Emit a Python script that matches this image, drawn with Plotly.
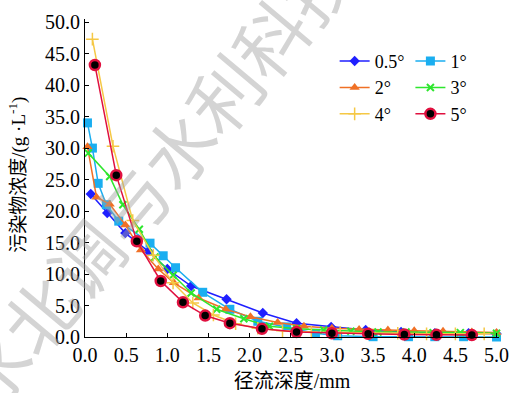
import plotly.graph_objects as go

# ---- data ----
names = ["0.5°", "1°", "2°", "3°", "4°", "5°"]

x_05 = [0.07, 0.27, 0.49, 0.77, 1.0, 1.29, 1.72, 2.16, 2.57, 2.99, 3.41, 3.84, 4.25, 4.66, 5.0]
y_05 = [22.7, 19.7, 16.5, 13.6, 10.8, 8.1, 6.0, 3.8, 2.2, 1.6, 1.1, 0.8, 0.6, 0.6, 0.5]

x_1 = [0.03, 0.09, 0.16, 0.26, 0.41, 0.79, 0.95, 1.1, 1.43, 1.76, 2.1, 2.45, 2.8, 3.07, 3.5, 3.93, 4.25, 4.6, 5.0]
y_1 = [34.0, 30.0, 24.4, 21.0, 18.4, 14.9, 12.9, 11.0, 7.1, 4.4, 2.5, 1.6, 0.6, 0.2, 0.05, 0.05, 0.05, 0.05, 0.0]

x_2 = [0.03, 0.14, 0.3, 0.49, 0.68, 0.89, 1.08, 1.38, 1.71, 2.01, 2.34, 2.66, 3.0, 3.33, 3.68, 4.0, 4.35, 4.7, 5.0]
y_2 = [30.2, 22.2, 21.1, 17.8, 13.8, 10.8, 8.6, 6.2, 4.4, 3.2, 2.3, 1.7, 1.4, 1.2, 1.1, 1.0, 0.9, 0.8, 0.7]

x_3 = [0.04, 0.3, 0.46, 0.66, 0.85, 1.07, 1.29, 1.6, 1.93, 2.24, 2.57, 2.9, 3.23, 3.56, 3.9, 4.23, 4.56, 5.0]
y_3 = [29.2, 25.5, 21.0, 17.1, 12.7, 9.8, 7.0, 4.4, 2.9, 1.7, 1.3, 1.1, 0.9, 0.8, 0.8, 0.7, 0.7, 0.6]

x_4 = [0.09, 0.34, 0.58, 0.83, 1.07, 1.31, 1.56, 1.83, 2.1, 2.4, 2.75, 3.1, 3.45, 3.8, 4.15, 4.5, 4.85]
y_4 = [47.3, 30.3, 18.5, 13.0, 8.6, 5.4, 3.5, 2.1, 1.4, 1.0, 0.8, 0.7, 0.6, 0.6, 0.5, 0.5, 0.5]

x_5 = [0.12, 0.38, 0.63, 0.92, 1.19, 1.46, 1.76, 2.15, 2.57, 3.0, 3.44, 3.88, 4.27, 4.7]
y_5 = [43.2, 25.7, 15.2, 8.9, 5.5, 3.4, 2.2, 1.3, 0.8, 0.6, 0.5, 0.4, 0.35, 0.3]

x_ticks = [0.0, 0.5, 1.0, 1.5, 2.0, 2.5, 3.0, 3.5, 4.0, 4.5, 5.0]
y_ticks = [0, 5, 10, 15, 20, 25, 30, 35, 40, 45, 50]

x_title = "径流深度/mm"
y_title = "污染物浓度/(g ·L<sup>-1</sup>)"
watermark = "南水北调与水利科技"

# ---- styles ----
FONT = "Liberation Serif, Times New Roman, Noto Sans CJK SC, serif"
series = [
    (x_05, y_05, "#1f1fff", dict(symbol="diamond", size=8, color="#1f1fff"), "legend"),
    (x_1, y_1, "#1aaef0", dict(symbol="square", size=9, color="#1aaef0"), "legend2"),
    (x_2, y_2, "#f07025", dict(symbol="triangle-up", size=9, color="#f07025"), "legend"),
    (x_3, y_3, "#2ee62e", dict(symbol="x-thin", size=7, line=dict(color="#2ee62e", width=2)), "legend2"),
    (x_4, y_4, "#f5c845", dict(symbol="cross-thin", size=9, line=dict(color="#f5c845", width=1.5)), "legend"),
    (x_5, y_5, "#e0103f", dict(symbol="circle", size=10, color="black", line=dict(color="#e0103f", width=2.5)), "legend2"),
]

fig = go.Figure()
fig.add_annotation(
    text=watermark, xref="paper", yref="paper", x=0.109, y=0.422,
    xanchor="center", yanchor="middle",
    showarrow=False, textangle=-50,
    font=dict(size=72, color="rgba(160,160,160,0.45)", family="Noto Sans CJK SC"),
)
fig.add_annotation(
    text=y_title, xref="paper", yref="paper", x=-0.162, y=0.51,
    xanchor="center", yanchor="middle", showarrow=False, textangle=-90,
    font=dict(size=19, color="black", family=FONT),
)
for (xs, ys, col, mk, lg), nm in zip(series, names):
    fig.add_trace(go.Scatter(
        x=xs, y=ys, mode="lines+markers", name=nm,
        line=dict(color=col, width=1.5), marker=mk, legend=lg, cliponaxis=False,
    ))

fig.update_layout(
    width=511, height=393,
    margin=dict(l=85, r=12, t=19, b=56),
    paper_bgcolor="white", plot_bgcolor="white",
    font=dict(family=FONT, size=18, color="black"),
    showlegend=True,
    legend=dict(x=0.603, y=0.925, xanchor="left", yanchor="top",
                bgcolor="rgba(0,0,0,0)", font=dict(size=18), tracegroupgap=0,
                itemwidth=30),
    legend2=dict(x=0.786, y=0.925, xanchor="left", yanchor="top",
                 bgcolor="rgba(0,0,0,0)", font=dict(size=18), tracegroupgap=0,
                 itemwidth=30),
)
fig.update_xaxes(
    range=[0, 5.03], tickvals=x_ticks, ticktext=[f"{v:.1f}" for v in x_ticks],
    showline=True, linecolor="black", linewidth=1.2, ticks="inside", ticklen=4,
    tickcolor="black", showgrid=False, zeroline=False, tickfont=dict(size=20),
    title=dict(text=x_title, font=dict(size=20), standoff=8), automargin=False,
)
fig.update_yaxes(
    range=[0, 50.5], tickvals=y_ticks, ticktext=[f"{v:.1f}" for v in y_ticks],
    showline=True, linecolor="black", linewidth=1.2, ticks="inside", ticklen=4,
    tickcolor="black", showgrid=False, zeroline=False, tickfont=dict(size=20),
    automargin=False,
)
fig.write_html("out.html")
